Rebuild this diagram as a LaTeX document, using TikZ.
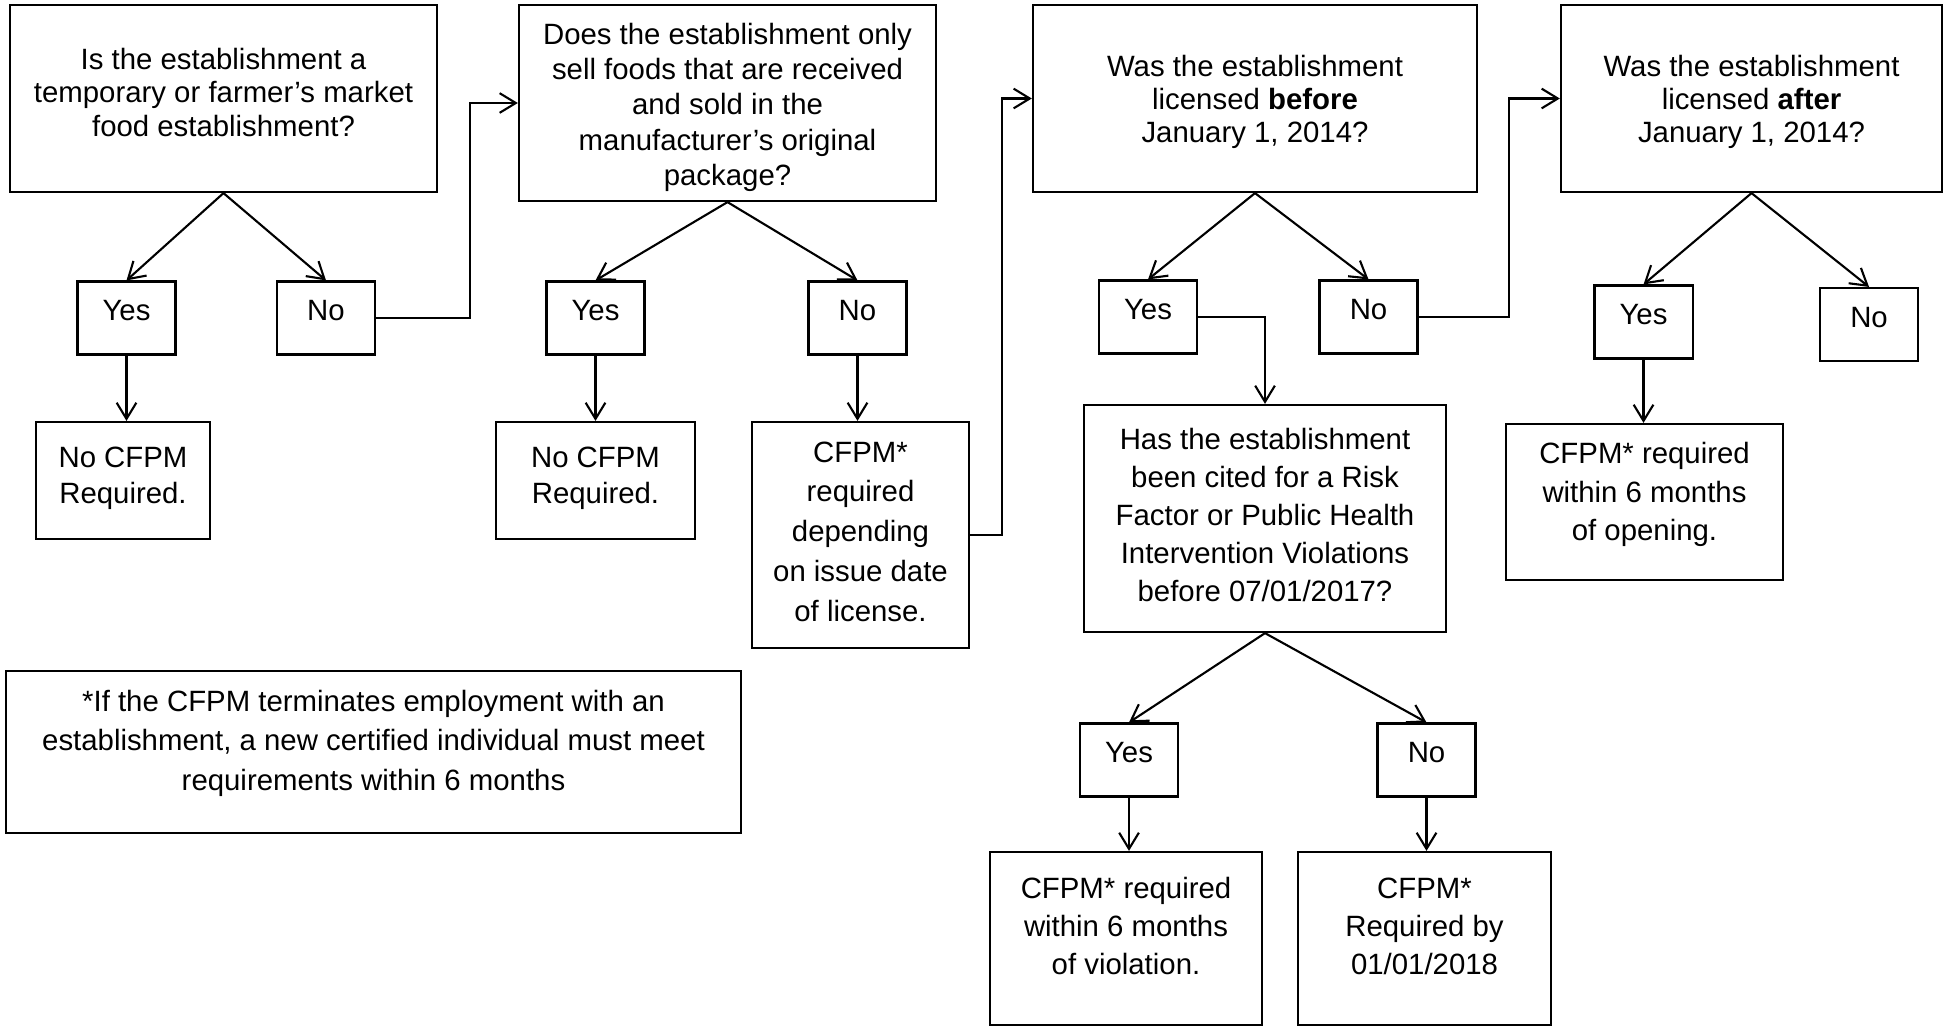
\documentclass[tikz,border=0pt]{standalone}
\usepackage{fontspec}
\setmainfont{Liberation Sans}
\usetikzlibrary{arrows.meta}
\newcommand{\spingi}[1]{\rule[-#1]{0pt}{0pt}}
\newcommand{\abbassa}[1]{\rule{0pt}{#1}}
\tikzset{
    interlinea/.style = {font = \fontsize{8.35}{#1}\selectfont},
    box/.style = {draw, line width = 0.6pt, align = center, inner sep = 0pt, interlinea = 10.4pt},
    sino/.style = {box, minimum width = 0.98cm, minimum height = 0.73cm},
    freccia/.style = {line width = 0.6pt, -{Straight Barb[length = 4.6pt, width = 5.6pt]}}
}

\begin{document}
\begin{tikzpicture}[x = 0.01cm, y = -0.01cm]
    \useasboundingbox (0,0) rectangle (1946,1027);
    % Domande
    \node[box, interlinea = 9.5pt, minimum width = 4.27cm, minimum height = 1.87cm] (q1) at (223.5,98.5) {Is the establishment a\\temporary or farmer’s market\\food establishment?\spingi{3.5pt}};
    \node[box, interlinea = 10pt, minimum width = 4.17cm, minimum height = 1.96cm] (q2) at (727.5,103) {\abbassa{8.5pt}Does the establishment only\\sell foods that are received\\and sold in the\\manufacturer’s original\\package?};
    \node[box, interlinea = 9.5pt, minimum width = 4.44cm, minimum height = 1.87cm] (q3) at (1255,98.5) {\abbassa{8pt}Was the establishment\\licensed \textbf{before}\\January 1, 2014?};
    \node[box, interlinea = 10.8pt, minimum width = 3.62cm, minimum height = 2.27cm] (q4) at (1265,518.5) {Has the establishment\\been cited for a Risk\\Factor or Public Health\\Intervention Violations\\before 07/01/2017?\spingi{2.1pt}};
    \node[box, interlinea = 9.5pt, minimum width = 3.81cm, minimum height = 1.87cm] (q5) at (1751.5,98.5) {\abbassa{8pt}Was the establishment\\licensed \textbf{after}\\January 1, 2014?};
    % Si / No
    \node[sino] (si1) at (126.5,318) {Yes\spingi{4.2pt}};
    \node[sino] (no1) at (326,318) {No\spingi{4.2pt}};
    \node[sino] (si2) at (595.5,318) {Yes\spingi{4.2pt}};
    \node[sino] (no2) at (857.5,318) {No\spingi{4.2pt}};
    \node[sino] (si3) at (1148,317) {Yes\spingi{4.2pt}};
    \node[sino] (no3) at (1368.5,317) {No\spingi{4.2pt}};
    \node[sino] (si4) at (1129,760) {Yes\spingi{4.2pt}};
    \node[sino] (no4) at (1426.5,760) {No\spingi{4.2pt}};
    \node[sino] (si5) at (1643.5,322) {Yes\spingi{4.2pt}};
    \node[sino] (no5) at (1869,324.5) {No\spingi{4.2pt}};
    % Risposte
    \node[box, interlinea = 10.2pt, minimum width = 1.74cm, minimum height = 1.17cm] (r1) at (123,480.5) {No CFPM\\Required.\spingi{3.1pt}};
    \node[box, interlinea = 10.2pt, minimum width = 1.99cm, minimum height = 1.17cm] (r2) at (595.5,480.5) {No CFPM\\Required.\spingi{3.1pt}};
    \node[box, interlinea = 11.3pt, minimum width = 2.17cm, minimum height = 2.26cm] (r3) at (860.5,535) {CFPM*\\required\\depending\\on issue date\\of license.\spingi{2.1pt}};
    \node[box, interlinea = 10.8pt, minimum width = 2.72cm, minimum height = 1.73cm] (r4) at (1126,938.5) {CFPM* required\\within 6 months\\of violation.\spingi{7pt}};
    \node[box, interlinea = 10.8pt, minimum width = 2.53cm, minimum height = 1.73cm] (r5) at (1424.5,938.5) {CFPM*\\Required by\\01/01/2018\spingi{7pt}};
    \node[box, interlinea = 10.9pt, minimum width = 2.77cm, minimum height = 1.56cm] (r6) at (1644.5,502) {CFPM* required\\within 6 months\\of opening.\spingi{5.9pt}};
    \node[box, interlinea = 11.3pt, minimum width = 7.35cm, minimum height = 1.62cm] (nota) at (373.5,752) {*If the CFPM terminates employment with an\\establishment, a new certified individual must meet\\requirements within 6 months\spingi{6.7pt}};
    % Frecce
    \draw[freccia] (q1.south) -- (si1.north);
    \draw[freccia] (q1.south) -- (no1.north);
    \draw[freccia] (si1.south) -- (si1.south |- r1.north);
    \draw[freccia] (no1.east) -- ++(94,0) |- (q2.west);
    \draw[freccia] (q2.south) -- (si2.north);
    \draw[freccia] (q2.south) -- (no2.north);
    \draw[freccia] (si2.south) -- (si2.south |- r2.north);
    \draw[freccia] (no2.south) -- (no2.south |- r3.north);
    \draw[freccia] (r3.east) -- ++(32,0) |- (q3.west);
    \draw[freccia] (q3.south) -- (si3.north);
    \draw[freccia] (q3.south) -- (no3.north);
    \draw[freccia] (si3.east) -| (q4.north);
    \draw[freccia] (no3.east) -- ++(90,0) |- (q5.west);
    \draw[freccia] (q4.south) -- (si4.north);
    \draw[freccia] (q4.south) -- (no4.north);
    \draw[freccia] (si4.south) -- (si4.south |- r4.north);
    \draw[freccia] (no4.south) -- (no4.south |- r5.north);
    \draw[freccia] (q5.south) -- (si5.north);
    \draw[freccia] (q5.south) -- (no5.north);
    \draw[freccia] (si5.south) -- (si5.south |- r6.north);
\end{tikzpicture}
\end{document}
